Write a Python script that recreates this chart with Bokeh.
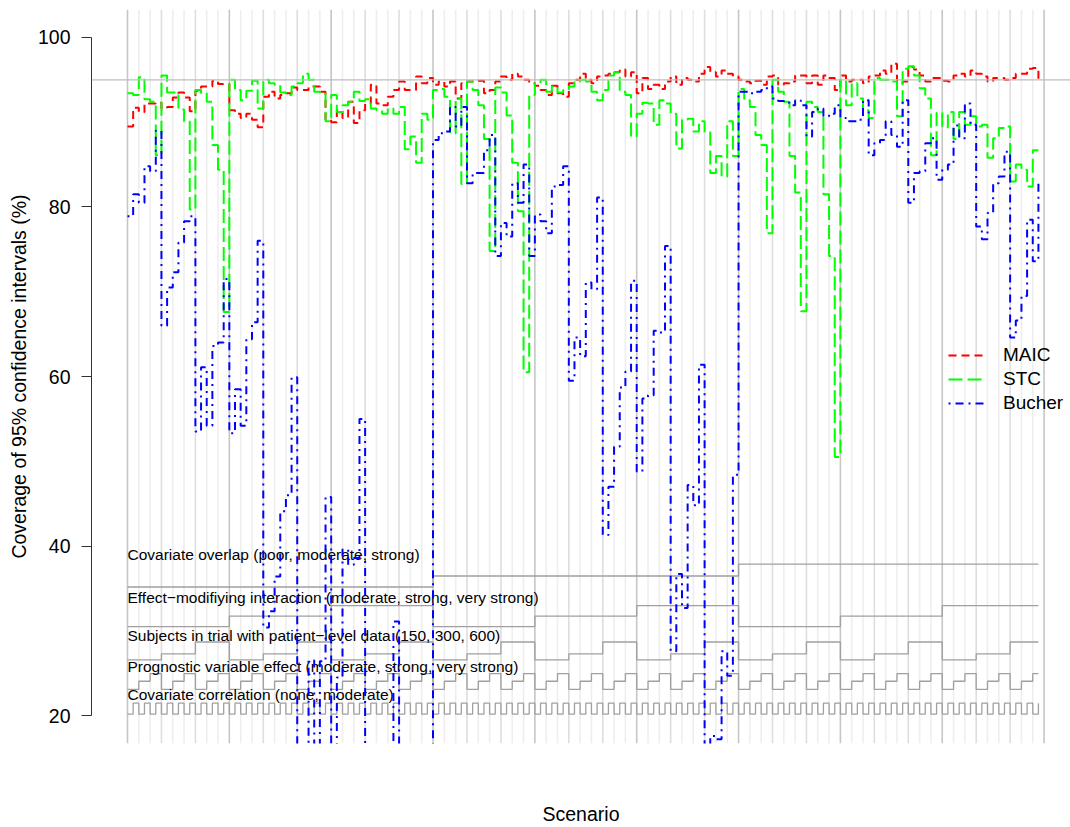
import itertools
from bokeh.plotting import figure
from bokeh.models import Range1d, FixedTicker, Span, Legend, LegendItem
from bokeh.embed import file_html
from bokeh.resources import INLINE
from bokeh.core.properties import value

# ---------------- data ----------------
scenario = list(range(1, 163))

maic = [89.5, 91.7, 91.2, 92.2, 92.2, 92.3, 91.6, 91.8, 92.9, 93.5,
        92.9, 91.3, 93.7, 94.2, 94.2, 94.9, 94.5, 94.5, 91.4, 91.0,
        90.5, 91.0, 90.3, 89.4, 93.0, 93.6, 92.8, 93.2, 93.4, 94.1,
        93.8, 93.8, 94.2, 94.2, 93.6, 90.3, 90.0, 91.4, 90.5, 92.4,
        89.9, 91.4, 92.2, 94.4, 92.2, 92.0, 93.0, 93.8, 94.8, 93.8,
        93.8, 95.4, 94.6, 95.2, 94.4, 94.8, 94.2, 94.8, 92.8, 94.6,
        94.8, 94.9, 94.9, 93.4, 93.8, 94.8, 95.4, 95.0, 95.7, 95.4,
        95.0, 94.6, 94.3, 93.8, 93.2, 94.3, 93.4, 93.0, 94.6, 95.0,
        95.7, 95.0, 94.6, 95.4, 95.5, 95.7, 95.9, 96.2, 95.4, 95.9,
        93.4, 95.2, 93.9, 94.4, 93.9, 94.8, 95.4, 94.4, 95.2, 95.0,
        94.8, 95.7, 96.5, 95.9, 95.4, 96.1, 95.7, 95.4, 95.0, 94.8,
        94.6, 94.9, 94.4, 95.4, 95.5, 94.4, 94.6, 94.8, 95.5, 95.5,
        94.6, 95.5, 94.4, 95.5, 95.2, 93.8, 95.5, 94.8, 95.0, 95.0,
        94.6, 95.4, 95.5, 96.1, 95.7, 96.9, 94.6, 94.8, 96.5, 96.2,
        95.5, 94.8, 95.2, 95.2, 94.9, 94.8, 95.5, 95.7, 95.4, 96.1,
        95.7, 95.4, 94.8, 95.2, 95.2, 95.0, 95.2, 95.7, 95.7, 96.3,
        96.4, 95.0]

stc = [93.4, 93.2, 95.3, 92.7, 92.4, 86.1, 95.5, 93.5, 93.5, 91.5,
       90.1, 79.7, 93.8, 93.4, 92.4, 87.3, 84.4, 67.6, 95.0, 93.8,
       92.6, 93.7, 94.9, 91.6, 95.0, 94.6, 94.4, 93.5, 93.2, 94.2,
       94.6, 95.7, 95.0, 93.6, 93.5, 90.1, 93.2, 91.2, 92.0, 92.4,
       93.6, 92.5, 92.7, 91.6, 91.4, 91.0, 91.6, 91.0, 91.8, 86.8,
       88.3, 85.2, 91.0, 90.3, 93.8, 93.9, 93.0, 88.7, 92.8, 82.7,
       94.8, 93.8, 92.0, 88.0, 74.8, 94.1, 93.5, 90.8, 85.2, 79.5,
       60.5, 93.2, 94.6, 95.0, 93.6, 94.2, 93.5, 93.8, 94.2, 94.8,
       95.0, 94.8, 93.6, 92.6, 93.8, 95.5, 95.9, 93.6, 93.2, 88.3,
       91.0, 92.3, 92.2, 89.7, 92.6, 92.2, 91.0, 86.9, 90.3, 90.4,
       88.9, 90.1, 88.8, 84.0, 86.0, 83.6, 90.1, 86.0, 93.9, 92.6,
       91.8, 88.5, 87.3, 76.9, 95.0, 93.6, 92.4, 86.0, 81.7, 67.7,
       92.4, 91.8, 91.2, 81.5, 74.2, 50.5, 95.0, 92.0, 94.6, 92.8,
       91.4, 90.5, 95.2, 95.0, 95.0, 94.8, 90.7, 96.3, 96.6, 95.5,
       94.0, 92.8, 86.1, 91.1, 89.4, 91.2, 88.0, 91.2, 89.7, 90.7,
       89.5, 89.7, 85.8, 88.1, 89.3, 89.5, 83.0, 85.0, 84.4, 82.4,
       86.7, 86.7]

bucher = [78.9, 81.5, 80.5, 84.8, 84.2, 89.0, 66.0, 70.5, 72.3, 75.8,
          78.3, 78.9, 53.5, 61.1, 54.2, 63.6, 64.0, 71.5, 53.3, 58.5,
          54.2, 64.4, 66.4, 76.0, 30.4, 32.3, 36.4, 44.1, 46.0, 59.9,
          10.0, 10.0, 26.5, 10.0, 26.4, 45.8, 10.0, 24.5, 39.6, 37.8,
          38.6, 55.0, 10.0, 10.0, 10.0, 10.0, 10.0, 31.1, 10.0, 10.0,
          10.0, 10.0, 10.0, 10.0, 87.9, 88.7, 88.9, 91.8, 89.5, 91.8,
          82.8, 84.0, 84.0, 86.7, 88.5, 74.2, 78.1, 76.5, 82.8, 80.5,
          85.0, 74.2, 79.1, 78.3, 76.9, 82.4, 82.6, 84.8, 59.5, 64.6,
          62.4, 71.1, 70.3, 81.1, 41.3, 47.0, 51.7, 58.7, 60.6, 71.3,
          48.8, 57.4, 57.8, 65.4, 65.2, 75.4, 27.6, 36.7, 32.7, 47.2,
          44.8, 61.4, 10.0, 17.6, 17.2, 27.6, 24.7, 48.4, 93.6, 93.6,
          93.4, 93.6, 93.8, 94.2, 92.8, 92.5, 92.3, 92.0, 92.6, 92.0,
          88.3, 91.2, 91.6, 90.7, 91.0, 92.0, 90.5, 90.1, 90.1, 90.3,
          92.6, 86.1, 87.5, 87.9, 90.1, 88.5, 87.1, 92.6, 80.5, 84.0,
          84.2, 87.5, 88.1, 83.2, 84.4, 85.0, 89.6, 88.1, 92.2, 89.7,
          77.7, 76.2, 79.3, 82.8, 83.6, 86.5, 64.6, 66.6, 69.5, 78.5,
          73.6, 83.0]

assert len(maic) == len(stc) == len(bucher) == len(scenario)

factor_labels = [
    "Covariate overlap (poor, moderate, strong)",
    "Effect\u2212modifiying interaction (moderate, strong, very strong)",
    "Subjects in trial with patient\u2212level data (150, 300, 600)",
    "Prognostic variable effect (moderate, strong, very strong)",
    "Covariate correlation (none, moderate)",
]
overlap_levels = ["poor", "moderate", "strong"]
interaction_levels = ["moderate", "strong", "very strong"]
subjects_levels = [150, 300, 600]
prognostic_levels = ["moderate", "strong", "very strong"]
correlation_levels = ["none", "moderate"]
factor_levels = [overlap_levels, interaction_levels, subjects_levels,
                 prognostic_levels, correlation_levels]

y_ticks = [20, 40, 60, 80, 100]
reference_coverage = 95
series_names = ["MAIC", "STC", "Bucher"]

# design grid: level index of each factor for every scenario (nested order)
design = list(itertools.product(*[range(len(lv)) for lv in factor_levels]))

# ---------------- layout / style ----------------
FONT = "Liberation Sans"
nest_y = [[35.17, 36.47, 37.88],
          [30.50, 31.73, 32.97],
          [26.57, 27.28, 28.68],
          [23.10, 24.05, 24.96],
          [20.18, 21.47]]
label_y = [39.05, 33.96, 29.50, 25.78, 22.53]

x0, x1 = -5.363, 167.67
y0, y1 = 16.71, 103.29

p = figure(width=1070, height=827, output_backend="svg", toolbar_location=None,
           x_range=Range1d(x0, x1), y_range=Range1d(y0, y1),
           min_border_left=91, min_border_right=0, min_border_top=9,
           min_border_bottom=81)
p.outline_line_color = None
p.grid.visible = False
p.background_fill_color = "white"
p.border_fill_color = "white"

# vertical guide lines (every 2 scenarios, stronger every 6 and 18)
gx = list(range(1, len(scenario) + 2, 2))
gcol = []
for g in gx:
    k = g - 1
    if k % 18 == 0:
        gcol.append("#C6C6C6")
    elif k % 6 == 0:
        gcol.append("#DEDEDE")
    else:
        gcol.append("#EEEEEE")
p.segment(x0=gx, y0=[y0] * len(gx), x1=gx, y1=[y1] * len(gx),
          line_color=gcol, line_width=1.6)

p.add_layout(Span(location=reference_coverage, dimension="width",
                  line_color="#BEBEBE", line_width=1.3))

# nested loop step lines for the design factors
for f in range(len(factor_levels)):
    ys = [nest_y[f][d[f]] for d in design]
    p.step(x=scenario, y=ys, mode="after", line_color="#A0A0A0", line_width=1.3)

p.text(x=[1] * len(factor_labels), y=label_y, text=factor_labels,
       text_font=value(FONT), text_font_size="15.5px", text_color="black",
       text_align="left", text_baseline="middle")

# data series
r_maic = p.step(x=scenario, y=maic, mode="after", line_color="#FF0000",
                line_width=2, line_dash="8 5")
r_stc = p.step(x=scenario, y=stc, mode="after", line_color="#00FF00",
               line_width=2, line_dash="14 5")
r_buc = p.step(x=scenario, y=bucher, mode="after", line_color="#0000FF",
               line_width=2, line_dash="2 5 8 5")

legend = Legend(items=[LegendItem(label=series_names[0], renderers=[r_maic]),
                       LegendItem(label=series_names[1], renderers=[r_stc]),
                       LegendItem(label=series_names[2], renderers=[r_buc])],
                location=(857, 328), orientation="vertical",
                glyph_width=37, glyph_height=24, label_height=24,
                label_standoff=18, spacing=0, padding=0, margin=0,
                border_line_color=None, background_fill_alpha=0,
                label_text_font=FONT, label_text_font_size="19px",
                label_text_color="black")
p.add_layout(legend)

# y axis
ya = p.yaxis[0]
ya.ticker = FixedTicker(ticks=y_ticks)
ya.bounds = (y_ticks[0], y_ticks[-1])
ya.minor_tick_line_color = None
ya.major_tick_in = 0
ya.major_tick_out = 10
ya.major_label_standoff = 11
ya.major_label_text_font = FONT
ya.major_label_text_font_size = "19.5px"
ya.major_label_text_color = "black"
ya.axis_line_color = "#333333"
ya.major_tick_line_color = "#333333"
ya.axis_label = "Coverage of 95% confidence intervals (%)"
ya.axis_label_text_font = FONT
ya.axis_label_text_font_size = "19.5px"
ya.axis_label_text_font_style = "normal"
ya.axis_label_text_color = "black"
ya.axis_label_standoff = 5

# x axis: only the title
xa = p.xaxis[0]
xa.ticker = FixedTicker(ticks=[])
xa.axis_line_color = None
xa.major_tick_line_color = None
xa.minor_tick_line_color = None
xa.major_tick_out = 0
xa.major_label_standoff = 0
xa.axis_label = "Scenario"
xa.axis_label_text_font = FONT
xa.axis_label_text_font_size = "19.5px"
xa.axis_label_text_font_style = "normal"
xa.axis_label_text_color = "black"
xa.axis_label_standoff = 59

open("out.html", "w").write(file_html(p, INLINE))
